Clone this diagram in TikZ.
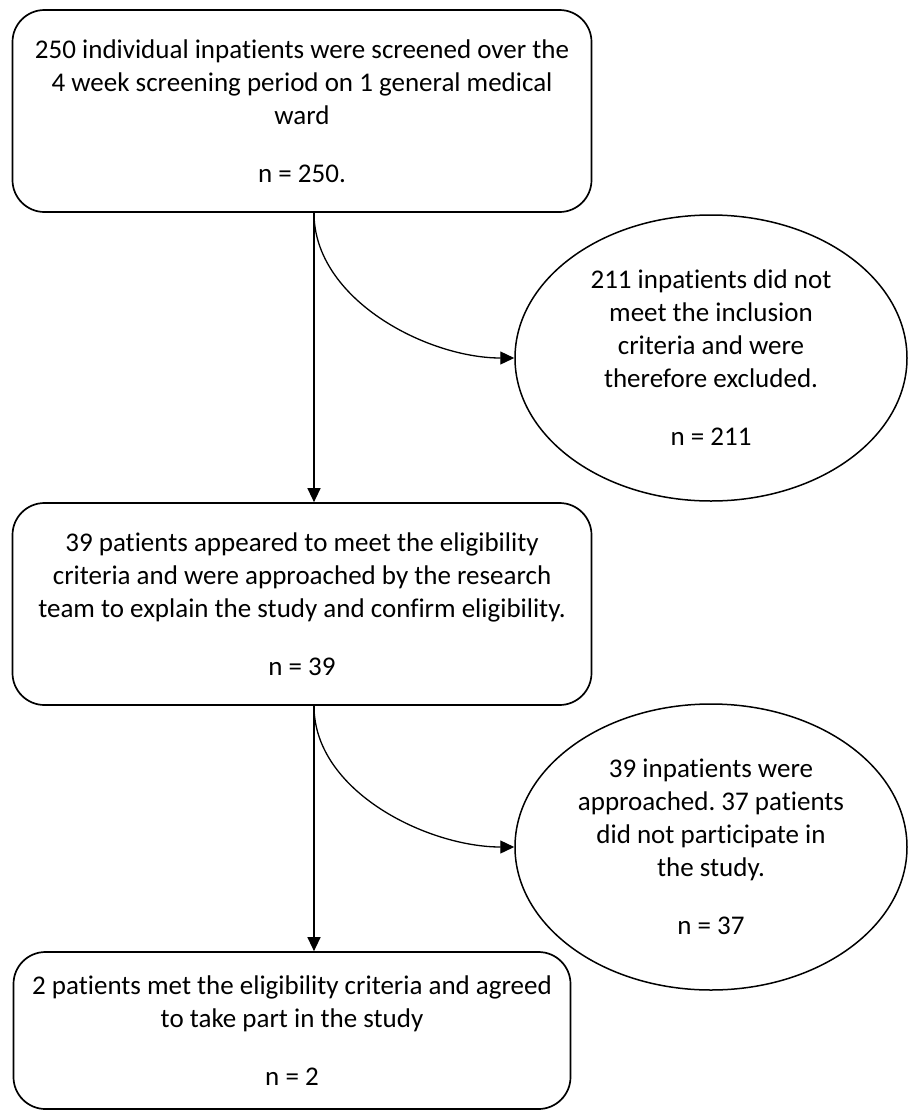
\documentclass[tikz,border=0pt]{standalone}
\usepackage{fontspec}
\setmainfont{Carlito}[Ligatures=NoCommon]
\usetikzlibrary{arrows.meta}
\usetikzlibrary{shapes.geometric}
\frenchspacing

\begin{document}
\begin{tikzpicture}[x=1pt, y=-1pt,
        font=\fontsize{27}{33}\selectfont,
        stagebox/.style={draw, line width=1.7pt, rounded corners=32pt, align=center, inner sep=0pt},
        dropout/.style={draw, ellipse, line width=1.5pt, align=center, inner sep=0pt,
            minimum width=392pt, minimum height=286pt},
        flow/.style={line width=1.3pt, -{Triangle[length=14pt, width=13pt]}}]
    \useasboundingbox (0, 0) rectangle (908, 1112);
    \fill[white] (0, 0) rectangle (908, 1112);

    \node[stagebox, minimum width=579pt, minimum height=202pt] (screened) at (302, 111)
        {250 individual inpatients were screened over the\\
         4 week screening period on 1 general medical\\
         ward\\[25pt]
         n = 250.};
    \node[dropout] (excluded) at (711, 358)
        {211 inpatients did not\\
         meet the inclusion\\
         criteria and were\\
         therefore excluded.\\[25pt]
         n = 211};
    \node[stagebox, minimum width=579pt, minimum height=202pt] (approached) at (302, 604)
        {39 patients appeared to meet the eligibility\\
         criteria and were approached by the research\\
         team to explain the study and confirm eligibility.\\[25pt]
         n = 39};
    \node[dropout] (declined) at (711, 847)
        {39 inpatients were\\
         approached. 37 patients\\
         did not participate in\\
         the study.\\[25pt]
         n = 37};
    \node[stagebox, minimum width=557pt, minimum height=157pt] (enrolled) at (292, 1030.5)
        {2 patients met the eligibility criteria and agreed\\
         to take part in the study\\[25pt]
         n = 2};

    \draw[flow] ([xshift=12pt]screened.south) -- ([xshift=12pt]screened.south |- approached.north);
    \draw[flow] ([xshift=12pt]screened.south) to[out=-90, in=180, looseness=0.9] (excluded.west);
    \draw[flow] ([xshift=12pt]approached.south) -- ([xshift=12pt]approached.south |- enrolled.north);
    \draw[flow] ([xshift=12pt]approached.south) to[out=-90, in=180, looseness=0.9] (declined.west);
\end{tikzpicture}
\end{document}
